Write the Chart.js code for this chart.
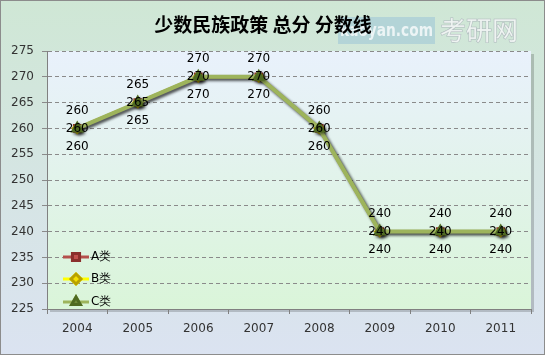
<!DOCTYPE html>
<html>
<head>
<meta charset="utf-8">
<script src="https://cdn.jsdelivr.net/npm/chart.js@4"></script>
<style>
  html, body { margin: 0; padding: 0; background: #ffffff; }
  #wrap { width: 545px; height: 355px; position: relative; }
</style>
</head>
<body>
<div id="wrap"><canvas id="chart" width="545" height="355"></canvas></div>
<script>
// chart data
var years = ['2004', '2005', '2006', '2007', '2008', '2009', '2010', '2011'];
var seriesA = [260, 265, 270, 270, 260, 240, 240, 240];
var seriesB = [260, 265, 270, 270, 260, 240, 240, 240];
var seriesC = [260, 265, 270, 270, 260, 240, 240, 240];
var seriesNames = ['A类', 'B类', 'C类'];
var chartTitle = '少数民族政策 总分 分数线';

// backgrounds, title, watermark and frame
var backgroundPlugin = {
  id: 'backgrounds',
  beforeDraw: function (chart) {
    var ctx = chart.ctx;
    var w = chart.width, h = chart.height;
    var g = ctx.createLinearGradient(0, 0, 0, h);
    g.addColorStop(0, '#cfe7d5');
    g.addColorStop(1, '#dbe3f1');
    ctx.save();
    ctx.fillStyle = g;
    ctx.fillRect(0, 0, w, h);

    var a = chart.chartArea;
    // plot area shadow
    ctx.fillStyle = 'rgba(0,0,0,0.18)';
    ctx.fillRect(a.left + 3, a.top + 3, a.right - a.left, a.bottom - a.top);
    var pg = ctx.createLinearGradient(0, a.top, 0, a.bottom);
    pg.addColorStop(0, '#e9f1fc');
    pg.addColorStop(1, '#daf5d9');
    ctx.fillStyle = pg;
    ctx.fillRect(a.left, a.top, a.right - a.left, a.bottom - a.top);

    // watermark
    ctx.fillStyle = 'rgba(160,200,215,0.6)';
    ctx.fillRect(338, 17, 97, 27);
    ctx.font = 'bold 18px "DejaVu Sans Condensed", sans-serif';
    ctx.textBaseline = 'middle';
    ctx.textAlign = 'left';
    ctx.fillStyle = 'rgba(255,255,255,0.75)';
    ctx.fillText('kaoyan.com', 340, 31, 93);
    ctx.font = '26px "Noto Sans CJK SC", sans-serif';
    ctx.strokeStyle = 'rgba(170,180,185,0.9)';
    ctx.lineWidth = 1;
    ctx.strokeText('考研网', 440, 30);
    ctx.fillStyle = 'rgba(255,255,255,0.7)';
    ctx.fillText('考研网', 440, 30);

    // title
    ctx.fillStyle = '#000000';
    ctx.font = 'bold 19px "Noto Sans CJK SC", sans-serif';
    ctx.textAlign = 'center';
    ctx.fillText(chartTitle, 263, 25);
    ctx.restore();
  },
  afterDraw: function (chart) {
    var ctx = chart.ctx;
    ctx.save();
    ctx.strokeStyle = '#8c8c8c';
    ctx.lineWidth = 1;
    ctx.strokeRect(0.5, 0.5, chart.width - 1, chart.height - 1);
    ctx.restore();
  }
};

// value labels: A above, B centred, C below
var labelPlugin = {
  id: 'valueLabels',
  afterDatasetsDraw: function (chart) {
    var ctx = chart.ctx;
    var offsets = [-18, 0, 18];
    ctx.save();
    ctx.font = '12px "DejaVu Sans", sans-serif';
    ctx.fillStyle = '#000000';
    ctx.textAlign = 'center';
    ctx.textBaseline = 'middle';
    chart.data.datasets.forEach(function (ds, i) {
      var meta = chart.getDatasetMeta(i);
      meta.data.forEach(function (pt, j) {
        ctx.fillText(String(ds.data[j]), pt.x, pt.y + offsets[i]);
      });
    });
    ctx.restore();
  }
};

// legend drawn inside plot area, lower left
var legendPlugin = {
  id: 'innerLegend',
  afterDatasetsDraw: function (chart) {
    var ctx = chart.ctx;
    var rows = [257, 279, 302];
    ctx.save();
    chart.data.datasets.forEach(function (ds, i) {
      var y = rows[i];
      ctx.strokeStyle = ds.borderColor;
      ctx.lineWidth = 3;
      ctx.beginPath();
      ctx.moveTo(63, y);
      ctx.lineTo(89, y);
      ctx.stroke();
      ctx.beginPath();
      Chart.helpers.drawPoint(ctx, {
        pointStyle: ds.pointStyle,
        radius: 5,
        borderWidth: 1
      }, 76, y);
      ctx.fillStyle = ds.pointBackgroundColor;
      ctx.strokeStyle = ds.pointBorderColor;
      ctx.fill();
      ctx.stroke();
      ctx.fillStyle = '#000000';
      ctx.font = '12px "DejaVu Sans", sans-serif';
      ctx.textBaseline = 'middle';
      ctx.textAlign = 'left';
      ctx.fillText(ds.label, 91, y);
    });
    ctx.restore();
  }
};

var shadowPlugin = {
  id: 'lineShadow',
  beforeDatasetsDraw: function (chart) {
    var ctx = chart.ctx;
    ctx.save();
    ctx.shadowColor = 'rgba(0,0,0,0.35)';
    ctx.shadowBlur = 3;
    ctx.shadowOffsetX = 2;
    ctx.shadowOffsetY = 2;
  },
  afterDatasetsDraw: function (chart) {
    chart.ctx.restore();
  }
};

var ctx = document.getElementById('chart').getContext('2d');
new Chart(ctx, {
  type: 'line',
  data: {
    labels: years,
    datasets: [
      {
        label: seriesNames[0], data: seriesA, order: 3,
        borderColor: '#b5504c', backgroundColor: '#b5504c',
        pointBackgroundColor: '#c0504d', pointBorderColor: '#8a2f2c',
        pointStyle: 'rect', pointRadius: 4, borderWidth: 3
      },
      {
        label: seriesNames[1], data: seriesB, order: 2,
        borderColor: '#ffff00', backgroundColor: '#ffff00',
        pointBackgroundColor: '#f4e000', pointBorderColor: '#b8a000',
        pointStyle: 'rectRot', pointRadius: 4, borderWidth: 3
      },
      {
        label: seriesNames[2], data: seriesC, order: 1,
        borderColor: '#9db45c', backgroundColor: '#9db45c',
        pointBackgroundColor: '#6f8a3a', pointBorderColor: '#4f6a22',
        pointStyle: 'triangle', pointRadius: 4, borderWidth: 4
      }
    ]
  },
  options: {
    responsive: false,
    animation: false,
    layout: { padding: { top: 51, right: 14, bottom: 16, left: 0 } },
    plugins: {
      legend: { display: false },
      title: { display: false },
      tooltip: { enabled: false }
    },
    scales: {
      x: {
        offset: true,
        grid: {
          display: true, offset: true, drawOnChartArea: false,
          tickLength: 5, color: '#808080'
        },
        border: { color: '#808080' },
        ticks: { color: '#333333', font: { size: 12, family: 'DejaVu Sans' }, padding: 8 },
        afterFit: function (scale) { scale.height = 30; }
      },
      y: {
        min: 225, max: 275,
        ticks: { stepSize: 5, color: '#333333', font: { size: 12, family: 'DejaVu Sans' }, padding: 8 },
        grid: { color: '#8a8a8a', tickLength: 5, drawTicks: true },
        border: { color: '#808080', dash: [4, 3] },
        afterFit: function (scale) { scale.width = 47; }
      }
    }
  },
  plugins: [backgroundPlugin, shadowPlugin, labelPlugin, legendPlugin]
});
</script>
</body>
</html>
